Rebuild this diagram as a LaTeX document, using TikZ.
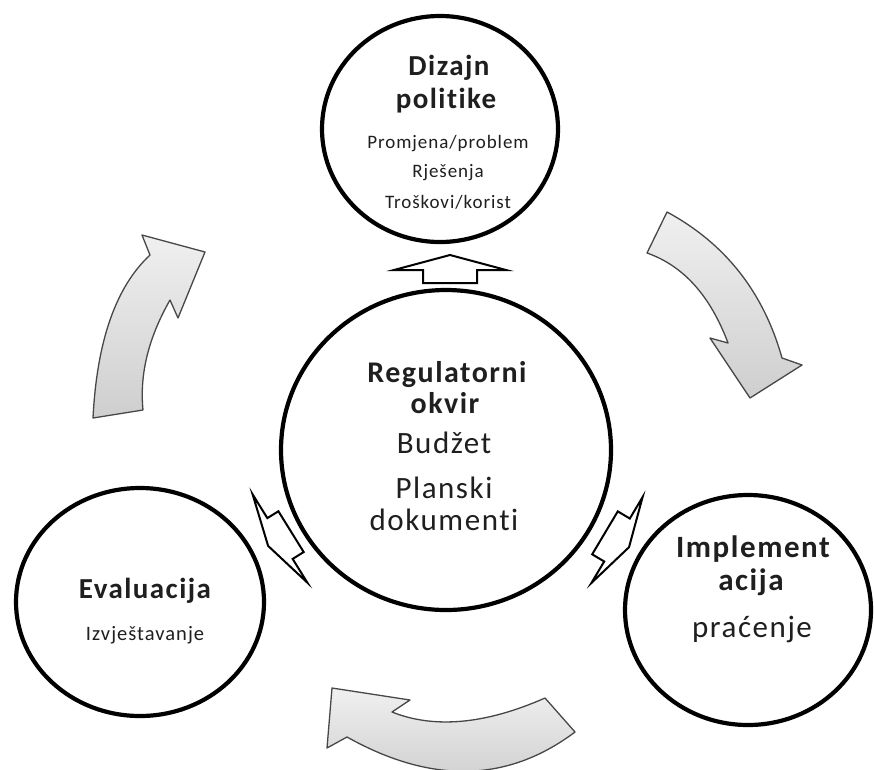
\documentclass[tikz,border=0pt]{standalone}
\usepackage{fontspec}
\setmainfont{Carlito}
\newfontfamily\lsf[LetterSpace=5,Ligatures={NoCommon}]{Carlito}
\usetikzlibrary{shapes.geometric}
\begin{document}
\begin{tikzpicture}[x=1pt,y=-1pt,
  circ/.style={draw=black, line width=4.2pt, ellipse, inner sep=0pt, fill=white},
  bigarrow/.style={draw=black!72, line width=1.3pt, line join=round, top color=black!6, bottom color=black!19},
  hollow/.style={draw=black, line width=2pt, fill=white, line join=miter},
  tb/.style={anchor=base, inner sep=0pt, text=black!88, font=\lsf\bfseries\fontsize{29}{30}\selectfont},
  ts/.style={anchor=base, inner sep=0pt, text=black!88, font=\lsf\fontsize{19}{20}\selectfont},
  tm/.style={anchor=base, inner sep=0pt, text=black!88, font=\lsf\fontsize{31}{32}\selectfont}]
\useasboundingbox (0,0) rectangle (874,769);
\fill[white] (0,0) rectangle (874,769);

% big curved arrows
\draw[bigarrow] (667,212) .. controls (725.2,243.4) and (763.5,292.1) .. (782,358) -- (802,365) -- (750,398) -- (710,338) -- (728,343) .. controls (710.3,295.7) and (683.3,265.7) .. (647,253) -- cycle;
\draw[bigarrow] (93,418) .. controls (96.9,341) and (115.9,286.7) .. (150,255) -- (142,235) -- (205,252) -- (178,318) -- (170,300) .. controls (148.7,337.3) and (139.4,373.9) .. (143,410) -- cycle;
\begin{scope}
\clip (0,0) rectangle (874,769);
\draw[bigarrow] (545,698) .. controls (485.3,724.3) and (434.3,728.9) .. (392,712) -- (410,700) -- (332,688) -- (327,748) -- (347,737) .. controls (431.5,784.3) and (507.5,782.7) .. (575,732) -- cycle;
\end{scope}

% circles
\node[circ, minimum width=236pt, minimum height=226pt] (top) at (440,129) {};
\node[circ, minimum width=330pt, minimum height=320pt] (mid) at (446,450) {};
\node[circ, minimum width=248pt, minimum height=228pt] (left) at (140,602) {};
\node[circ, minimum width=246pt, minimum height=230pt] (right) at (748,610) {};

% small hollow arrows
\begin{scope}[shift={(450,270)}]
\draw[hollow] (-56,0) -- (0,-15) -- (56,0) -- (27,0) -- (27,13) -- (-27,13) -- (-27,0) -- cycle;
\end{scope}
\begin{scope}[shift={(280,538.5)}, rotate=121.8]
\draw[hollow] (-52,0) -- (0,-14) -- (52,0) -- (24,0) -- (24,13) -- (-24,13) -- (-24,0) -- cycle;
\end{scope}
\begin{scope}[shift={(617,540)}, rotate=-120.8]
\draw[hollow] (-50,0) -- (0,-14) -- (50,0) -- (25,0) -- (25,14) -- (-25,14) -- (-25,0) -- cycle;
\end{scope}

% texts top
\node[tb] (t1) at (449,75) {Dizajn};
\node[tb] (t2) at (446,108) {politike};
\node[ts] (t3) at (448,148) {Promjena/problem};
\node[ts] (t4) at (448,177) {Rješenja};
\node[ts] (t5) at (448,208) {Troškovi/korist};
% texts middle
\node[tb, font=\lsf\bfseries\fontsize{30}{30}\selectfont] (m1) at (447,382) {Regulatorni};
\node[tb, font=\lsf\bfseries\fontsize{30}{30}\selectfont] (m2) at (445,413) {okvir};
\node[tm] (m3) at (444,453) {Budžet};
\node[tm] (m4) at (444,498) {Planski};
\node[tm] (m5) at (444,530) {dokumenti};
% texts left
\node[tb] (l1) at (145,598) {Evaluacija};
\node[ts, font=\lsf\fontsize{20.5}{22}\selectfont] (l2) at (145,640) {Izvještavanje};
% texts right
\node[tb, font=\lsf\bfseries\fontsize{31}{32}\selectfont] (r1) at (753,557) {Implement};
\node[tb, font=\lsf\bfseries\fontsize{31}{32}\selectfont] (r2) at (751,590) {acija};
\node[tm] (r3) at (752,637) {praćenje};
\end{tikzpicture}
\end{document}
